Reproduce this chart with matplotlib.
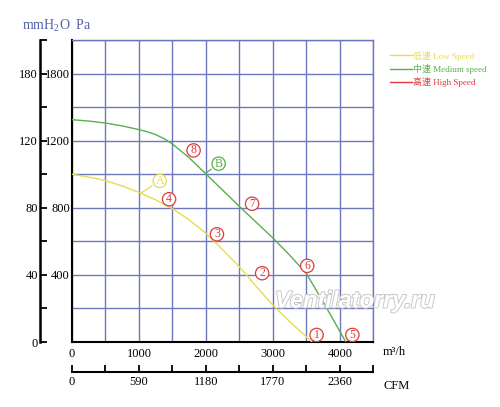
#!/usr/bin/env python3

import matplotlib
matplotlib.use("Agg")
import matplotlib.pyplot as plt
import matplotlib.patheffects as pe
from matplotlib.lines import Line2D

plt.rcParams['font.family'] = ['Liberation Serif', 'Noto Sans CJK SC']
plt.rcParams['mathtext.fontset'] = 'custom'
plt.rcParams['mathtext.rm'] = 'Liberation Serif'

# fan curves, airflow in m3/h, pressure in Pa
low_q = [0, 250, 500, 750, 1000, 1250, 1500, 1750, 2000, 2250, 2500, 2750, 3000, 3250, 3585]
low_p = [1000, 983, 962, 930, 892, 847, 795, 728, 648, 550, 448, 332, 220, 122, 0]
med_q = [0, 250, 500, 750, 1000, 1125, 1250, 1375, 1500, 1750, 2000, 2250, 2500, 2750,
         3000, 3250, 3500, 3750, 4090]
med_p = [1325, 1317, 1305, 1288, 1266, 1253, 1236, 1212, 1180, 1098, 1002, 905, 808, 714,
         620, 518, 408, 240, 0]

# circled operating point labels
pt_text = ["1", "2", "3", "4", "5", "6", "7", "8", "A", "B"]
pt_q = [3653, 2840, 2165, 1450, 4187, 3513, 2690, 1816, 1310, 2190]
pt_p = [42, 410, 642, 851, 42, 454, 824, 1142, 960, 1063]
pt_col = ["#e03a3a"] * 8 + ["#e6dc50", "#5aae4e"]

# leaders from A and B to their curves
lead_text = ["A", "B"]
lead_q = [1025, 2016]
lead_p = [887, 1011]

x_grid = list(range(0, 4501, 500))
x_major = [0, 1000, 2000, 3000, 4000]
x_labels = ["0", "1000", "2000", "3000", "4000"]
y_grid = list(range(0, 1801, 200))
y_major = [0, 400, 800, 1200, 1600]
y_labels = ["", "400", "800", "1200", "1800"]
mm_major = [0, 40, 80, 120, 160]
mm_labels = ["0", "40", "80", "120", "180"]
mm_minor = list(range(0, 181, 20))
cfm_major = [0, 590, 1180, 1770, 2360]
cfm_labels = ["0", "590", "1180", "1770", "2360"]
cfm_minor = [i * 295 for i in range(10)]

legend_labels = ["低速 Low Speed", "中速 Medium speed", "高速 High Speed"]
legend_cols = ["#e6dc50", "#5aae4e", "#e03a3a"]

grid_col = "#6c76bc"
fs = 9

fig = plt.figure(figsize=(5, 4.07), dpi=100)
ax = fig.add_axes([0.144, 0.1597, 0.6026, 0.742])
ax.set_xlim(0, 4500)
ax.set_ylim(0, 1800)
ax.set_axisbelow(True)

ax.set_xticks(x_major)
ax.set_xticklabels(x_labels, fontsize=fs)
ax.set_xticks(x_grid, minor=True)
ax.set_yticks(y_major)
ax.set_yticklabels(y_labels, fontsize=fs)
ax.set_yticks(y_grid, minor=True)
ax.tick_params(which="both", length=0)
ax.tick_params(axis="x", pad=4)
ax.tick_params(axis="y", pad=1.5)
ax.grid(True, which="both", color=grid_col, lw=1.0)

for s in ["left", "bottom"]:
    ax.spines[s].set_linewidth(1.5)
    ax.spines[s].set_color("black")
for s in ["top", "right"]:
    ax.spines[s].set_linewidth(1.0)
    ax.spines[s].set_color(grid_col)

ax.plot(low_q, low_p, color=legend_cols[0], lw=1.0, zorder=3)
ax.plot(med_q, med_p, color=legend_cols[1], lw=1.0, zorder=3)

for i in range(len(lead_text)):
    k = pt_text.index(lead_text[i])
    ax.annotate("", xy=(lead_q[i], lead_p[i]), xytext=(pt_q[k], pt_p[k]),
                arrowprops=dict(arrowstyle="-", color=pt_col[k], lw=0.9,
                                shrinkA=6.5, shrinkB=0), zorder=4)

ax.scatter(pt_q, pt_p, s=92, facecolors="white", edgecolors=pt_col, lw=0.9, zorder=5)
for t, q, p, c in zip(pt_text, pt_q, pt_p, pt_col):
    ax.text(q, p, t, color=c, fontsize=8.5, ha="center", va="center", zorder=6)

# outer mmH2O scale
sy = ax.secondary_yaxis(-0.106, functions=(lambda p: p / 10.0, lambda m: m * 10.0))
sy.set_yticks(mm_major)
sy.set_yticklabels(mm_labels, fontsize=fs)
sy.set_yticks(mm_minor, minor=True)
sy.tick_params(which="both", direction="in", length=5, width=1.3, pad=1.5)
sy.spines["left"].set_linewidth(1.8)

# CFM scale
sx = ax.secondary_xaxis(-0.099, functions=(lambda q: q * 0.59, lambda c: c / 0.59))
sx.set_xticks(cfm_major)
sx.set_xticklabels(cfm_labels, fontsize=fs)
sx.set_xticks(cfm_minor, minor=True)
sx.tick_params(which="both", direction="in", length=5, width=1.3, pad=3)
sx.spines["bottom"].set_linewidth(1.5)

fig.text(0.044, 1 - 26 / 407, r"mmH$_2$O  Pa", fontsize=10, color="#5060a8", va="center")
fig.text(383 / 500, 1 - 352 / 407, "m³/h", fontsize=fs, va="center")
fig.text(383 / 500, 1 - 386 / 407, "CFM", fontsize=fs, va="center")

handles = [Line2D([], [], color=c, lw=1.0) for c in legend_cols]
ax.legend(handles, legend_labels, loc="upper left", bbox_to_anchor=(1.055, 0.965),
          frameon=False, fontsize=6.5, handlelength=2.4, handletextpad=0.2,
          labelspacing=0.35, borderaxespad=0, borderpad=0, labelcolor="linecolor")

fig.text(355 / 500, 1 - 301 / 407, "Ventilatorry.ru", fontsize=17, fontweight="bold",
         fontstyle="italic", family="Liberation Sans", color="white", ha="center",
         va="center", zorder=10,
         path_effects=[pe.withStroke(linewidth=1.4, foreground="#c8c8c8")])

fig.savefig("out.png", dpi=100)
